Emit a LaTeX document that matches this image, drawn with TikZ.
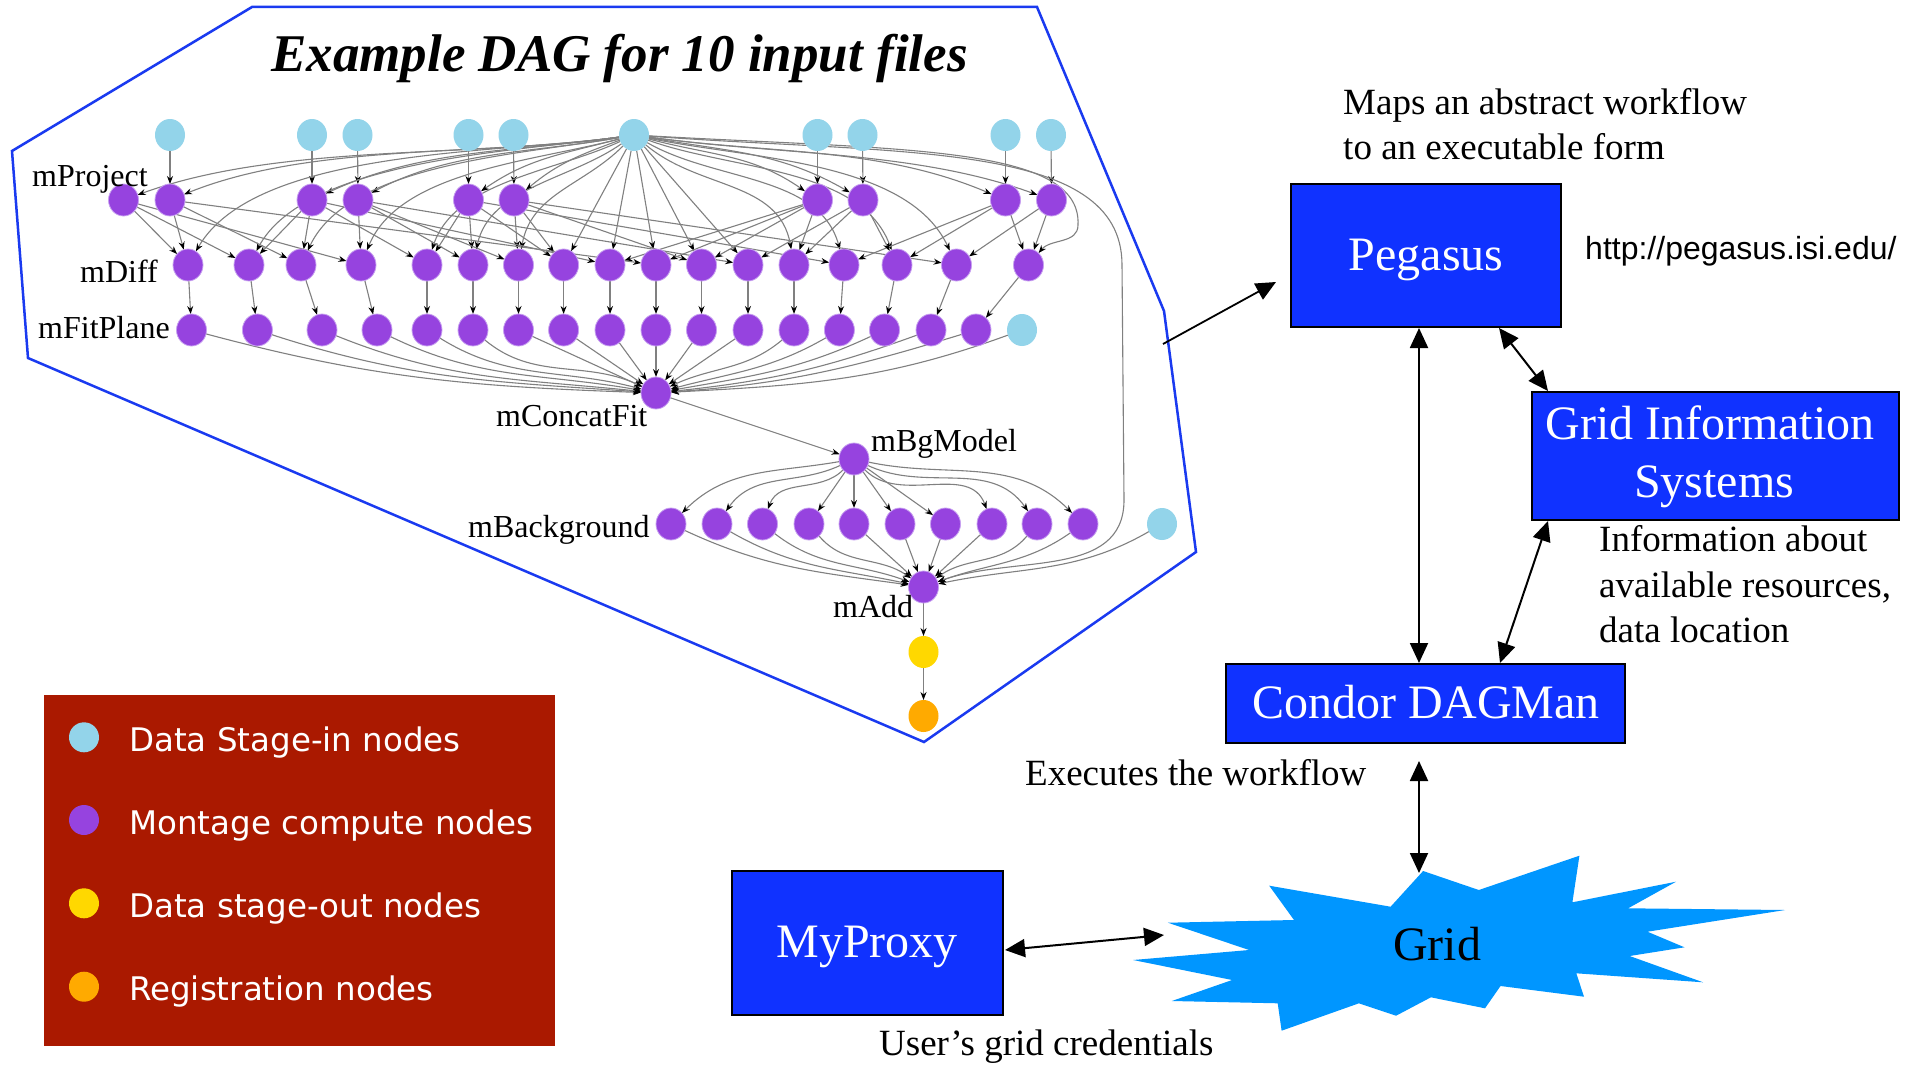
\documentclass[tikz,border=0pt]{standalone}
\usepackage{fontspec}
\setmainfont{Liberation Serif}
\newfontfamily\lsans{Liberation Sans}
\newfontfamily\dvs{DejaVu Sans}
\usetikzlibrary{shapes.geometric,arrows.meta}
\pgfdeclarelayer{background}
\pgfsetlayers{background,main}
\definecolor{dagcyan}{HTML}{93D4EA}
\definecolor{dagpurple}{HTML}{9643DF}
\definecolor{dagpedge}{HTML}{C7A0F0}
\definecolor{dagyellow}{HTML}{FFD800}
\definecolor{dagorange}{HTML}{FFAA00}
\definecolor{edgegray}{HTML}{808080}
\definecolor{boxblue}{HTML}{1032FF}
\definecolor{legred}{HTML}{AA1900}
\definecolor{starblue}{HTML}{0096FF}
\definecolor{polyblue}{HTML}{1A3AF0}
\begin{document}
\begin{tikzpicture}[x=1pt,y=-1pt,
  dn/.style={ellipse,minimum width=30pt,minimum height=32pt,inner sep=0pt,outer sep=0pt},
  cyn/.style={dn,fill=dagcyan},
  pur/.style={dn,fill=dagpurple,draw=dagpedge,line width=0.8pt},
  ylw/.style={dn,fill=dagyellow},
  org/.style={dn,fill=dagorange},
  dagedge/.style={draw=edgegray,line width=1.1pt,-{Stealth[length=8pt,width=6pt,color=black]}},
  daglabel/.style={anchor=base west,inner sep=0pt,font=\fontsize{32}{38}\selectfont},
  bluebox/.style={draw=black,line width=1.6pt,fill=boxblue,inner sep=0pt},
  boxtext/.style={anchor=base,inner sep=0pt,text=white,font=\fontsize{48}{58}\selectfont},
  note/.style={anchor=base west,inner sep=0pt,font=\fontsize{37}{45}\selectfont},
  bigarrow/.style={line width=2pt,{Triangle[length=20pt,width=18pt]}-{Triangle[length=20pt,width=18pt]}},
  legtext/.style={anchor=base west,inner sep=0pt,text=white,font=\dvs\fontsize{32.5}{39}\selectfont},
  legdot/.style={circle,minimum size=30pt,inner sep=0pt}
]
\useasboundingbox (0,0) rectangle (1913,1065);

% ---------- DAG nodes ----------
\node[cyn] (hub) at (634,135) {};
\foreach \x [count=\i] in {170,312,357.5,468.5,513.5,817.5,862.5,1005.5,1051}
  \node[cyn] (S\i) at (\x,135) {};
\foreach \x [count=\i from 0] in {123.5,170,312,358,468.5,514,817.5,863,1005.5,1051.5}
  \node[pur] (P\i) at (\x,200) {};
\foreach \x [count=\i from 0] in {188,249,301,361,427,473,518.5,563.6,610,656,701.5,748,794,844,897,956.5,1028.5}
  \node[pur] (D\i) at (\x,265) {};
\foreach \x [count=\i from 0] in {191.5,257.4,322,377,427,473,518.5,563.6,610,656,701.5,748,794,839.4,884.5,931,976}
  \node[pur] (F\i) at (\x,330) {};
\node[cyn] (fc) at (1022,330) {};
\node[pur] (cf) at (656,393) {};
\node[pur] (bg) at (854,459) {};
\foreach \x [count=\i from 0] in {671,717,762.5,809,854,900,945.5,992,1037,1083}
  \node[pur] (B\i) at (\x,524) {};
\node[cyn] (bc) at (1162,524) {};
\node[pur] (add) at (923.5,587) {};
\node[ylw] (sout) at (923.5,652) {};
\node[org] (reg) at (923.5,716) {};

\coordinate (k16) at (1078,225);
\coordinate (k20) at (1122,265);
\coordinate (k21) at (1124,500);
\coordinate (dagout) at (1163,344);
\coordinate (pegin) at (1276,282);

% ---------- DAG edges and outline ----------
\begin{pgfonlayer}{background}
\fill[white] (0,0) rectangle (1913,1065);
\draw[polyblue,line width=2.5pt,line join=miter]
  (252,7) -- (1037,7) -- (1164,311) -- (1196,552) -- (924,742) -- (28,358) -- (12,151) -- cycle;
\foreach \i in {1,...,9} \draw[dagedge] (S\i) -- (P\i);
\foreach \i/\oa/\ia/\lo in {0/-172/20/0.8,1/-172/22/0.8,2/-172/25/0.9,3/-170/28/0.9,4/-165/35/1,5/-160/40/1,6/-15/145/1,7/-10/150/1,8/-8/157/0.9,9/-8/160/0.85}
  \draw[dagedge] (hub) to[out=\oa,in=\ia,looseness=\lo] (P\i);
\foreach \i/\oa/\ia/\lo in {0/-172/60/0.7,1/-172/62/0.7,2/-170/65/0.75,3/-165/68/0.8,4/-155/72/0.85,5/-145/78/0.9,6/-135/80/1,12/-40/100/1,13/-30/105/0.9,14/-20/110/0.85,15/-12/115/0.8}
  \draw[dagedge] (hub) to[out=\oa,in=\ia,looseness=\lo] (D\i);
\foreach \i in {7,...,11} \draw[dagedge] (hub) -- (D\i);
\draw[dagedge] (hub) .. controls (900,150) and (1082,145) .. (k16) to[out=-90,in=50] (D16);
\draw[dagedge] (hub) .. controls (900,155) and (1122,140) .. (k20) -- (k21) to[out=-90,in=20] (add);
\foreach \d/\pa/\pb in {0/0/1,1/0/2,2/1/2,3/0/3,4/2/4,5/3/4,6/3/5,7/4/5,8/2/6,9/1/6,10/5/6,11/3/7,12/6/7,13/4/8,14/7/8,15/5/9,16/8/9}
  {\draw[dagedge] (P\pa) -- (D\d); \draw[dagedge] (P\pb) -- (D\d);}
\foreach \i in {0,...,16} \draw[dagedge] (D\i) -- (F\i);
\foreach \i/\oa/\ia in {0/-15/178,1/-18/176,2/-22/174,3/-26/170,4/-32/165,5/-40/155,12/-140/25,13/-150/15,14/-155/10,15/-160/6,16/-163/4}
  \draw[dagedge] (F\i) to[out=\oa,in=\ia] (cf);
\foreach \i in {6,...,11} \draw[dagedge] (F\i) -- (cf);
\draw[dagedge] (fc) to[out=-160,in=3] (cf);
\draw[dagedge] (cf) -- (bg);
\foreach \i/\oa/\ia in {0/-170/45,1/-155/55,2/-135/70,7/-45/110,8/-25/125,9/-12/135}
  \draw[dagedge] (bg) to[out=\oa,in=\ia] (B\i);
\foreach \i in {3,...,6} \draw[dagedge] (bg) -- (B\i);
\foreach \i/\oa/\ia in {0/-25/172,1/-30/168,2/-38/160,3/-50/145,8/-130/35,9/-145/20}
  \draw[dagedge] (B\i) to[out=\oa,in=\ia] (add);
\foreach \i in {4,...,7} \draw[dagedge] (B\i) -- (add);
\draw[dagedge] (bc) to[out=-150,in=12] (add);
\draw[dagedge] (add) -- (sout);
\draw[dagedge] (sout) -- (reg);
\end{pgfonlayer}

% ---------- DAG labels ----------
\node[anchor=base west,inner sep=0pt,font=\bfseries\itshape\fontsize{53}{60}\selectfont] (title) at (271,71) {Example DAG for 10 input files};
\node[daglabel] (lproj) at (32,186) {mProject};
\node[daglabel] (ldiff) at (80,282) {mDiff};
\node[daglabel] (lfit) at (38,338) {mFitPlane};
\node[daglabel] (lcf) at (496,426) {mConcatFit};
\node[daglabel] (lbg) at (871,451) {mBgModel};
\node[daglabel] (lback) at (468,537) {mBackground};
\node[daglabel] (ladd) at (833,617) {mAdd};

% ---------- legend ----------
\node[fill=legred,minimum width=511pt,minimum height=351pt,inner sep=0pt,anchor=north west] (legend) at (44,695) {};
\node[legdot,fill=dagcyan] (ld1) at (84,737.3) {};
\node[legdot,fill=dagpurple] (ld2) at (84,820) {};
\node[legdot,fill=dagyellow] (ld3) at (84,903.3) {};
\node[legdot,fill=dagorange] (ld4) at (84,986.7) {};
\node[legtext] (lt1) at (129,751) {Data Stage-in nodes};
\node[legtext] (lt2) at (129,834) {Montage compute nodes};
\node[legtext] (lt3) at (129,917) {Data stage-out nodes};
\node[legtext] (lt4) at (129,1000) {Registration nodes};

% ---------- system boxes ----------
\node[bluebox,minimum width=270pt,minimum height=143pt] (peg) at (1426,255.5) {};
\node[bluebox,minimum width=367pt,minimum height=128pt] (gis) at (1715.5,456) {};
\node[bluebox,minimum width=399pt,minimum height=79pt] (condor) at (1425.5,703.5) {};
\node[bluebox,minimum width=271pt,minimum height=144pt] (myproxy) at (867.5,943) {};
\node[boxtext] (tpeg) at (1426,270) {Pegasus};
\node[boxtext] (tgis1) at (1710,439.5) {Grid Information};
\node[boxtext] (tgis2) at (1714,497.5) {Systems};
\node[boxtext] (tcondor) at (1426,718.5) {Condor DAGMan};
\node[boxtext] (tmyproxy) at (867,957) {MyProxy};

% ---------- grid star ----------
\fill[starblue] (1579.4,855.7) -- (1572.4,902.3) -- (1676,881.7) -- (1628.1,908.3) -- (1785.1,910) -- (1647.4,931.7) -- (1684.5,947.3) -- (1629.6,956) -- (1703.1,982.3) -- (1576.3,973.3) -- (1584,996.7) -- (1500.5,986) -- (1485,1008.3) -- (1430.9,997.3) -- (1396.1,1015.7) -- (1358.9,1003.3) -- (1281.6,1030.7) -- (1277.7,1003.3) -- (1171.8,1001) -- (1232.1,980) -- (1133.1,960) -- (1249.1,950) -- (1167.9,922.7) -- (1294,920) -- (1269.2,885.7) -- (1390.6,906.7) -- (1423.1,871) -- (1478.8,890) -- cycle;
\node[anchor=base,inner sep=0pt,font=\fontsize{48}{58}\selectfont] (grid) at (1437,960) {Grid};

% ---------- annotations ----------
\node[note] (n1) at (1343,114.5) {Maps an abstract workflow};
\node[note] (n2) at (1343,159) {to an executable form};
\node[anchor=base west,inner sep=0pt,font=\lsans\fontsize{32}{38}\selectfont] (url) at (1585,259) {http://pegasus.isi.edu/};
\node[note] (n3) at (1599,551) {Information about};
\node[note] (n4) at (1599,597) {available resources,};
\node[note] (n5) at (1599,642) {data location};
\node[note] (n6) at (1025,785) {Executes the workflow};
\node[note] (n7) at (879,1055) {User’s grid credentials};

% ---------- big arrows ----------
\coordinate (pc1) at (1419,328);
\coordinate (pc2) at (1419,663);
\coordinate (pg1) at (1499,328);
\coordinate (pg2) at (1548,391);
\coordinate (gc1) at (1548,521);
\coordinate (gc2) at (1500,663);
\coordinate (cg1) at (1419,761);
\coordinate (cg2) at (1419,873);
\coordinate (mg1) at (1005,950);
\coordinate (mg2) at (1164,935);
\draw[bigarrow] (pc1) -- (pc2);
\draw[bigarrow] (pg1) -- (pg2);
\draw[bigarrow] (gc1) -- (gc2);
\draw[bigarrow] (cg1) -- (cg2);
\draw[bigarrow] (mg1) -- (mg2);
\draw[line width=1.8pt,-{Triangle[length=20pt,width=18pt]}] (dagout) -- (pegin);
\end{tikzpicture}
\end{document}
